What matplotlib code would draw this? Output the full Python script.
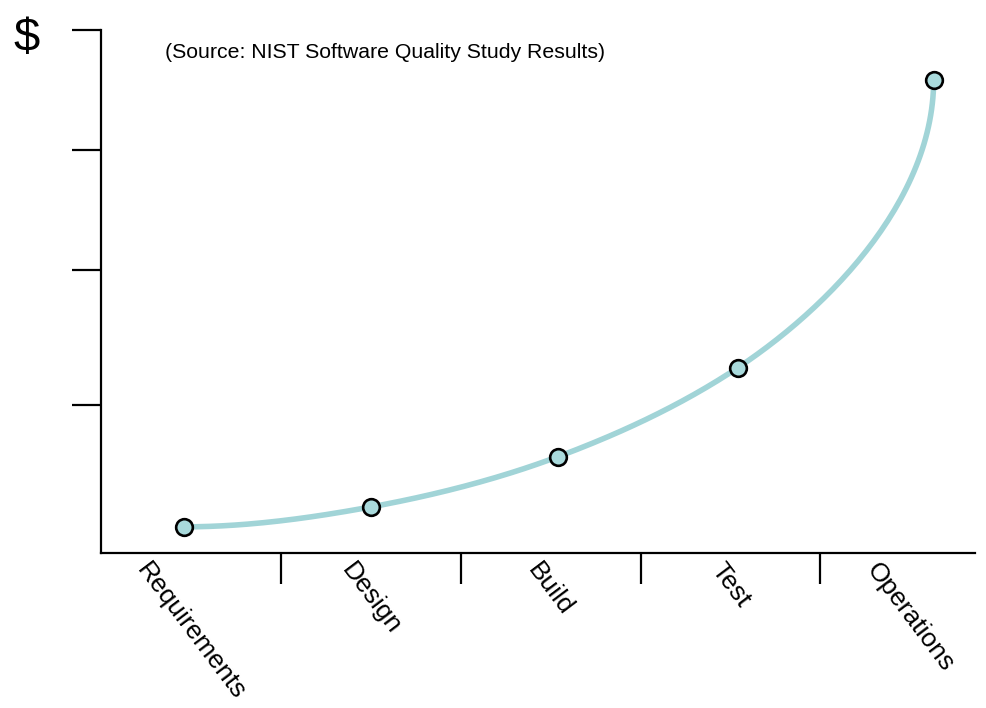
import numpy as np
import matplotlib.pyplot as plt

plt.rcParams["font.family"] = ["Liberation Sans", "DejaVu Sans"]

stages = ["Requirements", "Design", "Build", "Test", "Operations"]
# where each marker sits along the x axis (stage units) and its relative cost
point_x = [0.46, 1.50, 2.54, 3.54, 4.63]
cost = [5.0, 8.8, 18.4, 35.4, 90.4]
ytick_pos = [28.3, 54.1, 77.1, 100.0]
source_note = "(Source: NIST Software Quality Study Results)"

line_color = "#a1d4d7"
face_color = "#a9dadc"


def smooth_curve(xs, ys, sx, sy, n=60):
    # parametric cubic hermite, flat at start and vertical at the end
    P = np.column_stack([np.array(xs) * sx, np.array(ys) * sy])
    k = len(P)
    chords = P[1:] - P[:-1]
    lens = np.linalg.norm(chords, axis=1)
    units = chords / lens[:, None]
    D = np.zeros_like(P)
    D[0] = [1, 0]
    D[-1] = [0, 1]
    for i in range(1, k - 1):
        w_prev, w_next = lens[i] ** 2, lens[i - 1] ** 2
        d = w_prev * units[i - 1] + w_next * units[i]
        D[i] = d / np.linalg.norm(d)
    t = np.linspace(0, 1, n)[:, None]
    h00 = 2 * t**3 - 3 * t**2 + 1
    h10 = t**3 - 2 * t**2 + t
    h01 = -2 * t**3 + 3 * t**2
    h11 = t**3 - t**2
    out = []
    for i in range(k - 1):
        L = lens[i]
        out.append(h00 * P[i] + h10 * D[i] * L + h01 * P[i + 1] + h11 * D[i + 1] * L)
    out = np.vstack(out)
    return out[:, 0] / sx, out[:, 1] / sy


fig = plt.figure(figsize=(9.87, 7.08), dpi=100)
ax = fig.add_axes([101 / 987, 155 / 708, 874 / 987, 523 / 708])
ax.set_xlim(0, 4.86)
ax.set_ylim(0, 100)

cx, cy = smooth_curve(point_x, cost, 180, 5.23)
ax.plot(cx, cy, color=line_color, lw=4, solid_capstyle="round", zorder=2)
ax.plot(point_x, cost, "o", ms=12, mfc=face_color, mec="black", mew=1.9,
        zorder=3, clip_on=False)

for side in ["top", "right"]:
    ax.spines[side].set_visible(False)
for side in ["left", "bottom"]:
    ax.spines[side].set_linewidth(1.6)

ax.set_yticks(ytick_pos)
ax.set_yticklabels([])
ax.tick_params(axis="y", direction="out", length=21, width=1.6)

ax.set_xticks([0.5, 1.5, 2.5, 3.5, 4.5])
ax.set_xticklabels(stages, rotation=-53, ha="center", va="top", fontsize=19)
ax.tick_params(axis="x", which="major", length=0, pad=4)
ax.set_xticks([1, 2, 3, 4], minor=True)
ax.tick_params(axis="x", which="minor", direction="out", length=22, width=1.6)

fig.text(13 / 987, 1 - 51 / 708, r"\$", fontsize=34, ha="left", va="baseline")
fig.text(165 / 987, 1 - 58 / 708, source_note, fontsize=15.3, ha="left",
         va="baseline")

fig.savefig("out.png", dpi=100)
